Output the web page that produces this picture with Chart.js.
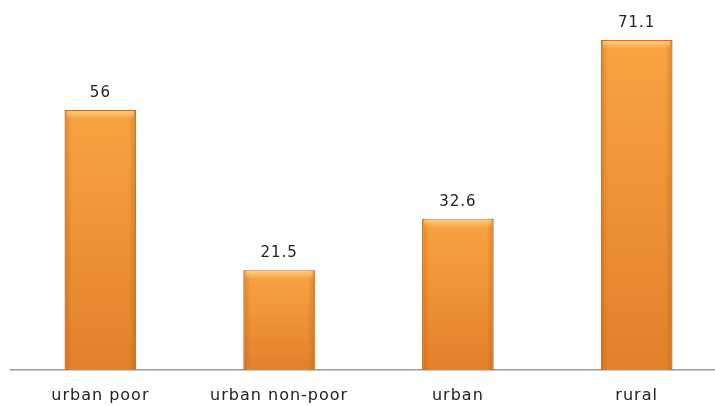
<!DOCTYPE html>
<html>
<head>
  <title>Bar chart</title>
  <style>
    body { margin: 0; padding: 0; background: #fff; overflow: hidden; }
    /* a bit wider than the window: the last category runs off the right edge like in the original */
    #wrap { width: 726px; height: 406px; position: relative; }
  </style>
</head>
<body>
<div id="wrap"><canvas id="myChart"></canvas></div>

<script src="https://cdn.jsdelivr.net/npm/chart.js"></script>
<script>
  const categories = ['urban poor', 'urban non-poor', 'urban', 'rural'];
  const values = [56, 21.5, 32.6, 71.1];
  const valueLabels = ['56', '21.5', '32.6', '71.1'];

  // little bevel on each bar + the number above it
  const barDecorPlugin = {
    id: 'barDecor',
    beforeDraw(chart) {
      chart.ctx.letterSpacing = '1px';
    },
    afterDatasetsDraw(chart) {
      const ctx = chart.ctx;
      const meta = chart.getDatasetMeta(0);
      ctx.save();
      meta.data.forEach((bar) => {
        const left = bar.x - bar.width / 2;
        const h = bar.base - bar.y;
        // darker sides
        const side = ctx.createLinearGradient(left, 0, left + bar.width, 0);
        side.addColorStop(0, 'rgba(170, 80, 10, 0.35)');
        side.addColorStop(0.1, 'rgba(170, 80, 10, 0)');
        side.addColorStop(0.9, 'rgba(170, 80, 10, 0)');
        side.addColorStop(1, 'rgba(170, 80, 10, 0.35)');
        ctx.fillStyle = side;
        ctx.fillRect(left, bar.y, bar.width, h);
        // light band at the top
        const top = ctx.createLinearGradient(0, bar.y, 0, bar.y + 9);
        top.addColorStop(0, 'rgba(255, 225, 150, 0.75)');
        top.addColorStop(1, 'rgba(255, 225, 150, 0)');
        ctx.fillStyle = top;
        ctx.fillRect(left + 2, bar.y + 1, bar.width - 4, 9);
      });

      ctx.font = '15px "DejaVu Sans"';
      ctx.letterSpacing = '1px';
      ctx.fillStyle = '#222';
      ctx.textAlign = 'center';
      ctx.textBaseline = 'alphabetic';
      meta.data.forEach((bar, i) => {
        ctx.fillText(valueLabels[i], bar.x, bar.y - 13);
      });
      ctx.restore();
    }
  };

  function barFill(context) {
    const chart = context.chart;
    const yScale = chart.scales.y;
    if (!chart.chartArea || !yScale) return '#F29433';
    const top = yScale.getPixelForValue(context.raw);
    const bottom = yScale.getPixelForValue(0);
    if (!isFinite(top) || !isFinite(bottom) || top === bottom) return '#F29433';
    const g = chart.ctx.createLinearGradient(0, top, 0, bottom);
    g.addColorStop(0, '#F9A443');
    g.addColorStop(1, '#E3802A');
    return g;
  }

  const ctx = document.getElementById('myChart').getContext('2d');
  const myChart = new Chart(ctx, {
    type: 'bar',
    data: {
      labels: categories,
      datasets: [{
        data: values,
        backgroundColor: barFill,
        borderColor: '#D27020',
        borderWidth: 1,
        categoryPercentage: 0.8,
        barPercentage: 0.5
      }]
    },
    options: {
      responsive: true,
      maintainAspectRatio: false,
      animation: false,
      layout: { padding: { left: 11, right: 0, top: 0, bottom: 0 } },
      plugins: {
        legend: { display: false },
        tooltip: { enabled: false }
      },
      scales: {
        x: {
          grid: { display: false, drawTicks: false },
          border: { display: true, color: '#9a9a9a', width: 1.5 },
          ticks: {
            color: '#222',
            font: { family: 'DejaVu Sans', size: 16 },
            padding: 16
          },
          afterFit(scale) {
            scale.height = 36;
          }
        },
        y: {
          display: false,
          min: 0,
          max: 79.7
        }
      }
    },
    plugins: [barDecorPlugin]
  });
</script>
</body>
</html>
